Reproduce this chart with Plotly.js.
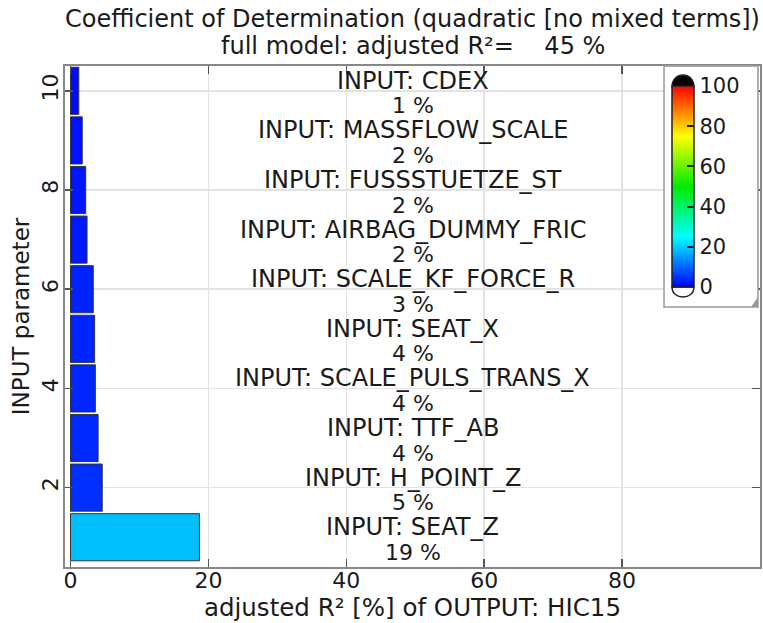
<!DOCTYPE html>
<html>
<head>
<meta charset="utf-8">
<script src="https://cdn.plot.ly/plotly-3.0.1.min.js"></script>
<style>html,body{margin:0;padding:0;background:#fff;}</style>
</head>
<body>
<div id="chart" style="width:763px;height:623px;"></div>
<script>
// parameter index (y position), bottom to top
const paramIndex = [1, 2, 3, 4, 5, 6, 7, 8, 9, 10];
const paramNames = ["SEAT_Z", "H_POINT_Z", "TTF_AB", "SCALE_PULS_TRANS_X", "SEAT_X",
                    "SCALE_KF_FORCE_R", "AIRBAG_DUMMY_FRIC", "FUSSSTUETZE_ST", "MASSFLOW_SCALE", "CDEX"];
const adjR2 = [18.7, 4.6, 4.0, 3.6, 3.5, 3.3, 2.4, 2.2, 1.7, 1.2];
const fullModelR2 = 45;
const xTicks = [0, 20, 40, 60, 80];
const yTicks = [2, 4, 6, 8, 10];
const cbTicks = [0, 20, 40, 60, 80, 100];

const FONT = "DejaVu Sans, Verdana, sans-serif";
const TXT = "#1a1a1a";

const colorscale = [[0, "rgb(0,0,255)"], [0.25, "rgb(0,255,255)"], [0.5, "rgb(0,235,0)"],
                    [0.75, "rgb(255,255,0)"], [1, "rgb(255,0,0)"]];

const trace = {
  type: "bar",
  orientation: "h",
  x: adjR2,
  y: paramIndex,
  width: 0.95,
  hoverinfo: "skip",
  marker: {
    color: adjR2,
    colorscale: colorscale,
    cmin: 0, cmax: 100,
    line: {color: "#333", width: 1},
    showscale: true,
    colorbar: {
      x: 0.862, xanchor: "left", xref: "paper",
      y: 1.0, yanchor: "top", yref: "paper",
      lenmode: "pixels", len: 241,
      thicknessmode: "pixels", thickness: 22,
      xpad: 8, ypad: 20,
      bgcolor: "rgba(0,0,0,0)",
      borderwidth: 0,
      outlinecolor: "#222", outlinewidth: 1.5,
      tickvals: cbTicks,
      tickprefix: "\u00a0",
      ticks: "inside", ticklen: 7, tickcolor: "#222", tickwidth: 2,
      tickfont: {family: FONT, size: 21, color: TXT}
    }
  }
};

const annotations = [];
paramIndex.forEach((yi, i) => {
  annotations.push({
    xref: "paper", x: 0.5, yref: "y", y: yi, yshift: 10,
    text: "INPUT: " + paramNames[i], showarrow: false,
    font: {family: FONT, size: 24, color: TXT}
  });
  annotations.push({
    xref: "paper", x: 0.5, yref: "y", y: yi, yshift: -15,
    text: Math.round(adjR2[i]) + " %", showarrow: false,
    font: {family: FONT, size: 22, color: TXT}
  });
});
// second title line
annotations.push({
  xref: "paper", x: 0.5, yref: "paper", y: 1, yanchor: "middle", yshift: 20,
  text: "full model: adjusted R²=    " + fullModelR2 + " %", showarrow: false,
  font: {family: FONT, size: 24, color: TXT}
});

// colorbar box (behind the colorbar), end caps and corner grip
const shapes = [
  {type: "rect", xref: "paper", yref: "paper", layer: "above",
   x0: 0.8619, x1: 0.9971, y0: 0.519, y1: 1.0,
   fillcolor: "white", line: {color: "#999", width: 1.5}},
  {type: "path", xref: "paper", yref: "paper", layer: "above",
   path: "M 0.8734 0.9581 C 0.8734 0.990 0.9050 0.990 0.9050 0.9581 Z",
   fillcolor: "black", line: {color: "#222", width: 1.5}},
  {type: "path", xref: "paper", yref: "paper", layer: "above",
   path: "M 0.8734 0.5589 C 0.8734 0.5322 0.9050 0.5322 0.9050 0.5589 Z",
   fillcolor: "white", line: {color: "#222", width: 1.5}},
  {type: "path", xref: "paper", yref: "paper", layer: "above",
   path: "M 0.9871 0.519 L 0.9971 0.519 L 0.9971 0.539 Z",
   fillcolor: "#999", line: {width: 0}}
];

const layout = {
  width: 763, height: 623,
  margin: {l: 65, r: 3, t: 66, b: 56},
  paper_bgcolor: "white", plot_bgcolor: "white",
  showlegend: false,
  title: {
    text: "Coefficient of Determination (quadratic [no mixed terms])",
    x: 0.5, xref: "paper", xanchor: "center",
    y: 0.970, yref: "container", yanchor: "middle",
    font: {family: FONT, size: 24, color: TXT}
  },
  xaxis: {
    range: [-0.8, 100],
    tickvals: xTicks,
    ticks: "inside", ticklen: 8, tickcolor: "#555", tickwidth: 1.5,
    showline: true, linecolor: "#888", linewidth: 2, mirror: "ticks",
    showgrid: true, gridcolor: "#e3e3e3", gridwidth: 1.5,
    zeroline: false,
    ticklabelstandoff: -7,
    tickfont: {family: FONT, size: 22, color: TXT},
    title: {text: "adjusted R² [%] of OUTPUT: HIC15", standoff: 2,
            font: {family: FONT, size: 24.5, color: TXT}}
  },
  yaxis: {
    range: [0.4, 10.5],
    tickvals: yTicks,
    tickangle: -90,
    ticks: "inside", ticklen: 8, tickcolor: "#555", tickwidth: 1.5,
    showline: true, linecolor: "#888", linewidth: 2, mirror: "ticks",
    showgrid: true, gridcolor: "#e3e3e3", gridwidth: 1.5,
    zeroline: false,
    ticklabelstandoff: -4,
    tickfont: {family: FONT, size: 22, color: TXT},
    title: {text: "INPUT parameter", standoff: 2,
            font: {family: FONT, size: 23, color: TXT}}
  },
  annotations: annotations,
  shapes: shapes
};

Plotly.newPlot("chart", [trace], layout, {displayModeBar: false, staticPlot: true});
</script>
</body>
</html>
